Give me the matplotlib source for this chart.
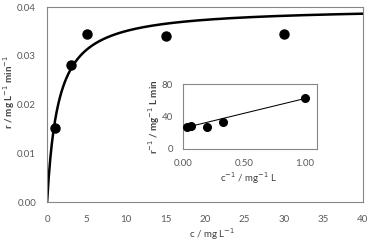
import numpy as np
import matplotlib
matplotlib.use('Agg')
import matplotlib.pyplot as plt

plt.rcParams['font.family'] = ['Lato', 'DejaVu Sans']

# measured rate vs concentration
c_data = [1, 3, 5, 15, 30]
r_data = [0.0151, 0.0282, 0.0345, 0.0340, 0.0345]

# Michaelis-Menten fit parameters
vmax = 0.0400
km = 1.4

# Lineweaver-Burk inset
inv_c = [1 / 30, 1 / 15, 1 / 5, 1 / 3, 1.0]
inv_r = [27.4, 28.0, 26.8, 32.8, 62.4]
lb_slope = 36.5
lb_icpt = 25.6

grey = '#595959'
edge = '#868686'

fig = plt.figure(figsize=(3.71, 2.45), dpi=100)
ax = fig.add_axes([0.127, 0.1755, 0.851, 0.7955])

c_fit = np.linspace(0, 40, 400)
ax.plot(c_fit, vmax * c_fit / (km + c_fit), color='black', lw=1.8, zorder=2)
ax.plot(c_data, r_data, 'o', color='black', ms=6.5, zorder=3)

ax.set_xlim(0, 40)
ax.set_ylim(0, 0.04)
ax.set_xticks(np.arange(0, 41, 5))
ax.set_yticks([0, 0.01, 0.02, 0.03, 0.04])
ax.set_yticklabels(['0.00', '0.01', '0.02', '0.03', '0.04'])
ax.tick_params(length=0, labelsize=7, colors=grey)
ax.tick_params(axis='y', pad=8)
ax.tick_params(axis='x', pad=9.5)
for s in ax.spines.values():
    s.set_color(edge)
    s.set_linewidth(0.8)
ax.set_xlabel('c / mg L$^{-1}$', fontsize=7, color='#404040')
ax.set_ylabel('r / mg L$^{-1}$ min$^{-1}$', fontsize=7, fontweight='bold',
              color='#404040')
ax.xaxis.label.set_va('center')
ax.yaxis.label.set_va('center')
ax.xaxis.set_label_coords(0.522, -0.164)
ax.yaxis.set_label_coords(-0.12, 0.567)

# inset
ins = fig.add_axes([0.493, 0.392, 0.361, 0.265])
xl = np.array([min(inv_c), max(inv_c)])
ins.plot(xl, lb_icpt + lb_slope * xl, color='black', lw=0.75, zorder=2)
ins.plot(inv_c, inv_r, 'o', color='black', ms=5.5, zorder=3)
ins.set_xlim(0, 1.1)
ins.set_ylim(0, 80)
ins.set_xticks([0, 0.5, 1.0])
ins.set_xticklabels(['0.00', '0.50', '1.00'])
ins.set_yticks([0, 40, 80])
ins.tick_params(length=0, labelsize=7, colors=grey)
ins.tick_params(axis='y', pad=7)
ins.tick_params(axis='x', pad=7)
for s in ins.spines.values():
    s.set_color(edge)
    s.set_linewidth(0.8)
ins.set_xlabel('c$^{-1}$ / mg$^{-1}$ L', fontsize=7, color='#404040')
ins.set_ylabel('r$^{-1}$ / mg$^{-1}$ L min', fontsize=7, fontweight='bold',
               color='#404040')
ins.xaxis.label.set_va('center')
ins.yaxis.label.set_va('center')
ins.xaxis.set_label_coords(0.49, -0.446)
ins.yaxis.set_label_coords(-0.216, 0.5)

fig.savefig('out.png', dpi=100)
